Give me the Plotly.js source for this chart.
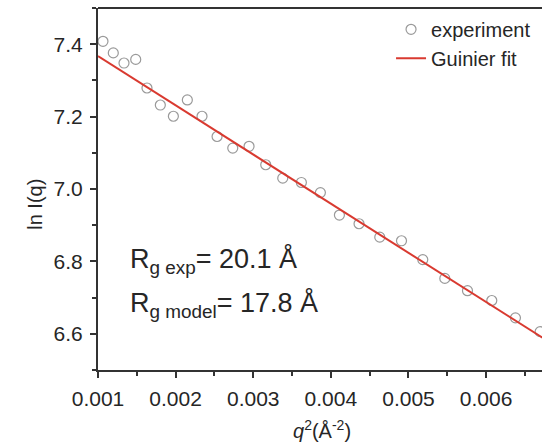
<!DOCTYPE html>
<html>
<head>
<meta charset="utf-8">
<script src="https://cdn.plot.ly/plotly-3.0.1.min.js"></script>
<style>html,body{margin:0;padding:0;background:#fff;overflow:hidden;}</style>
</head>
<body>
<div id="chart" style="width:542px;height:446px;"></div>
<script>
// Experimental Guinier data (q^2 in Å^-2, ln I)
const q2Exp = [0.001064, 0.001197, 0.001335, 0.001486, 0.001631, 0.001803, 0.001971, 0.002151,
  0.002340, 0.002534, 0.002736, 0.002946, 0.003161, 0.003380, 0.003620, 0.003865,
  0.004110, 0.004363, 0.004630, 0.004910, 0.005184, 0.005468, 0.005760, 0.006073,
  0.006378, 0.006696];
const lnIExp = [7.408, 7.376, 7.348, 7.358, 7.279, 7.232, 7.201, 7.246,
  7.201, 7.145, 7.113, 7.118, 7.067, 7.030, 7.018, 6.990,
  6.928, 6.904, 6.867, 6.857, 6.805, 6.753, 6.719, 6.692,
  6.644, 6.606];
// Guinier fit line end points
const q2Fit = [0.001, 0.00675];
const lnIFit = [7.367, 6.586];
const xTicks = [0.001, 0.002, 0.003, 0.004, 0.005, 0.006];
const yTicks = [6.6, 6.8, 7.0, 7.2, 7.4];

const FONT = 'Liberation Sans, Arial, sans-serif';
const INK = '#262626';

const traces = [
  {x: q2Exp, y: lnIExp, mode: 'markers', type: 'scatter', name: 'experiment',
   marker: {symbol: 'circle-open', size: 10, color: '#9a9a9a', line: {width: 1.2, color: '#9a9a9a'}}},
  {x: q2Fit, y: lnIFit, mode: 'lines', type: 'scatter', name: 'Guinier fit',
   line: {color: '#d93a30', width: 2}}
];

const axisCommon = {
  showline: true, linecolor: '#333', linewidth: 2, mirror: false,
  ticks: 'outside', ticklen: 6, tickwidth: 2, tickcolor: '#333',
  showgrid: false, zeroline: false, ticklabelstandoff: 3,
  tickfont: {family: FONT, size: 21, color: INK}
};

const layout = {
  width: 542, height: 446,
  margin: {l: 98, r: 0, t: 8, b: 76},
  paper_bgcolor: '#fff', plot_bgcolor: '#fff',
  showlegend: true,
  legend: {x: 0.66, y: 0.995, xanchor: 'left', yanchor: 'top', bgcolor: 'rgba(0,0,0,0)',
    font: {family: FONT, size: 20, color: INK}, tracegroupgap: 0},
  xaxis: Object.assign({}, axisCommon, {
    range: [0.001, 0.00672], tickvals: xTicks, ticktext: xTicks.map(v => v.toFixed(3)),
    minor: {dtick: 0.0005, tick0: 0.001, ticks: 'outside', ticklen: 4, tickwidth: 2, tickcolor: '#333'}
  }),
  yaxis: Object.assign({}, axisCommon, {
    range: [6.5, 7.5], tickvals: yTicks, ticktext: yTicks.map(v => v.toFixed(1)),
    minor: {dtick: 0.1, tick0: 6.5, ticks: 'outside', ticklen: 4, tickwidth: 2, tickcolor: '#333'}
  }),
  shapes: [
    {type: 'line', xref: 'paper', yref: 'paper', x0: 0, x1: 1.01, y0: 1, y1: 1,
     line: {color: '#333', width: 2}}
  ],
  annotations: [
    {xref: 'x', yref: 'y', x: 0.00138, y: 6.803, xanchor: 'left', yanchor: 'middle', showarrow: false,
     text: 'R<sub>g exp</sub>= 20.1 Å', font: {family: FONT, size: 27, color: INK}},
    {xref: 'x', yref: 'y', x: 0.00138, y: 6.681, xanchor: 'left', yanchor: 'middle', showarrow: false,
     text: 'R<sub>g model</sub>= 17.8 Å', font: {family: FONT, size: 27, color: INK}},
    {xref: 'paper', yref: 'paper', x: 0.505, y: -0.165, xanchor: 'center', yanchor: 'middle', showarrow: false,
     text: '<i>q</i><sup>2</sup>(Å<sup>-2</sup>)', font: {family: FONT, size: 20, color: INK}},
    {xref: 'paper', yref: 'paper', x: -0.142, y: 0.459, xanchor: 'center', yanchor: 'middle', showarrow: false,
     textangle: -90, text: 'ln I(q)', font: {family: FONT, size: 20, color: INK}}
  ]
};

Plotly.newPlot('chart', traces, layout, {displayModeBar: false, staticPlot: true});
</script>
</body>
</html>
